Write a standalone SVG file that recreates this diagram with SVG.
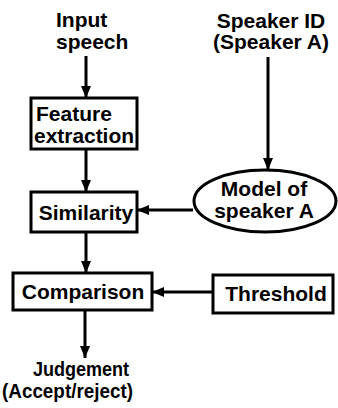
<svg xmlns="http://www.w3.org/2000/svg" width="338" height="408" viewBox="0 0 338 408">
<defs>
<style>
text{font-family:"Liberation Sans",Arial,sans-serif;font-weight:bold;font-size:21px;fill:#000}
.box{fill:#fff;stroke:#000;stroke-width:3}
.ln{fill:none;stroke:#000;stroke-width:3}
</style>
<marker id="ah" viewBox="0 0 12 10" refX="12" refY="5" markerWidth="12" markerHeight="10" markerUnits="userSpaceOnUse" orient="auto">
<path d="M0,0 L12,5 L0,10 Z" fill="#000"/>
</marker>
</defs>
<rect width="338" height="408" fill="#fff"/>
<g id="connectors">
<line class="ln" x1="86" y1="56" x2="86" y2="98" marker-end="url(#ah)"/>
<line class="ln" x1="86" y1="149" x2="86" y2="192" marker-end="url(#ah)"/>
<line class="ln" x1="268" y1="57" x2="268" y2="170" marker-end="url(#ah)"/>
<line class="ln" x1="193" y1="210" x2="137" y2="210" marker-end="url(#ah)"/>
<line class="ln" x1="86" y1="232" x2="86" y2="273" marker-end="url(#ah)"/>
<line class="ln" x1="213" y1="292" x2="152" y2="292" marker-end="url(#ah)"/>
<line class="ln" x1="85" y1="310" x2="85" y2="358" marker-end="url(#ah)"/>
</g>
<g id="input">
<text x="56" y="27">Input</text>
<text x="56" y="49">speech</text>
</g>
<g id="speaker-id">
<text x="271" y="28" text-anchor="middle">Speaker ID</text>
<text x="271" y="49" text-anchor="middle">(Speaker A)</text>
</g>
<g id="feature">
<rect class="box" x="31" y="98" width="106" height="51"/>
<text x="36" y="121">Feature</text>
<text x="84" y="143" text-anchor="middle" textLength="100" lengthAdjust="spacingAndGlyphs">extraction</text>
</g>
<g id="similarity">
<rect class="box" x="31" y="192" width="106" height="40"/>
<text x="86" y="220" text-anchor="middle">Similarity</text>
</g>
<g id="model">
<ellipse class="box" cx="265" cy="201" rx="71" ry="31"/>
<text x="264" y="196" text-anchor="middle">Model of</text>
<text x="264" y="218" text-anchor="middle">speaker A</text>
</g>
<g id="comparison">
<rect class="box" x="13" y="273" width="139" height="37"/>
<text x="83" y="299" text-anchor="middle">Comparison</text>
</g>
<g id="threshold">
<rect class="box" x="213" y="275" width="120" height="38"/>
<text x="276" y="301" text-anchor="middle">Threshold</text>
</g>
<g id="judgement">
<text x="33" y="376" textLength="96" lengthAdjust="spacingAndGlyphs">Judgement</text>
<text x="2" y="398" textLength="131" lengthAdjust="spacingAndGlyphs">(Accept/reject)</text>
</g>
</svg>
